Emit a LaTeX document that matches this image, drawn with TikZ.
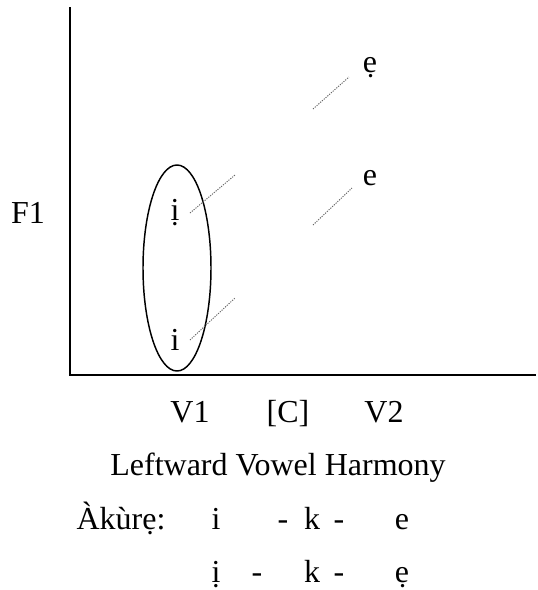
\documentclass[tikz,border=0pt]{standalone}
\usepackage{fontspec}
\setmainfont{Liberation Serif}
\usetikzlibrary{shapes.geometric}

\tikzset{
  lbl/.style={inner sep=0pt, anchor=base, font=\fontsize{24}{28}\selectfont},
  axis/.style={line width=1.5pt},
  formant/.style={gray!80!black, line width=0.7pt, dash pattern=on 0.9pt off 0.9pt},
}

\begin{document}
\begin{tikzpicture}[x=0.75pt, y=-0.75pt]
\useasboundingbox (0,0) rectangle (537,590);

% axes
\coordinate (ytop) at (70,7);
\coordinate (origin) at (70,375);
\coordinate (xend) at (536,375);
\draw[axis] (ytop) -- (origin) -- (xend);
\node[lbl] (f1) at (28,223) {F1};

% vowels
\node[lbl] (ih) at (175,220) {ị};
\node[lbl] (i) at (175,350) {i};
\node[lbl] (eh) at (370,72) {ẹ};
\node[lbl] (e) at (370,185) {e};
\node[draw, ellipse, line width=1.1pt, inner sep=0pt,
      minimum width=51pt, minimum height=154.5pt] (v1) at (177,268) {};

% formant transitions
\coordinate (ihA) at (190,213); \coordinate (ihB) at (235,175);
\coordinate (iA) at (190,340);  \coordinate (iB) at (235,298);
\coordinate (eA) at (313,225);  \coordinate (eB) at (352,188);
\coordinate (ehA) at (313,109); \coordinate (ehB) at (349,77);
\draw[formant] (ihA) -- (ihB);
\draw[formant] (iA) -- (iB);
\draw[formant] (eA) -- (eB);
\draw[formant] (ehA) -- (ehB);

% x labels
\node[lbl] (v1lbl) at (190,422) {V1};
\node[lbl] (clbl) at (288,422) {[C]};
\node[lbl] (v2lbl) at (384,422) {V2};
\node[lbl] (title) at (278,475) {Leftward Vowel Harmony};

% example
\node[lbl] (akure) at (121,529) {Àkùrẹ:};
\node[lbl] (a1) at (216,529) {i};
\node[lbl] (a2) at (283,529) {-};
\node[lbl] (a3) at (312,529) {k};
\node[lbl] (a4) at (339,529) {-};
\node[lbl] (a5) at (402,529) {e};
\node[lbl] (b1) at (216,582) {ị};
\node[lbl] (b2) at (257,582) {-};
\node[lbl] (b3) at (312,582) {k};
\node[lbl] (b4) at (339,582) {-};
\node[lbl] (b5) at (402,582) {ẹ};
\end{tikzpicture}
\end{document}
